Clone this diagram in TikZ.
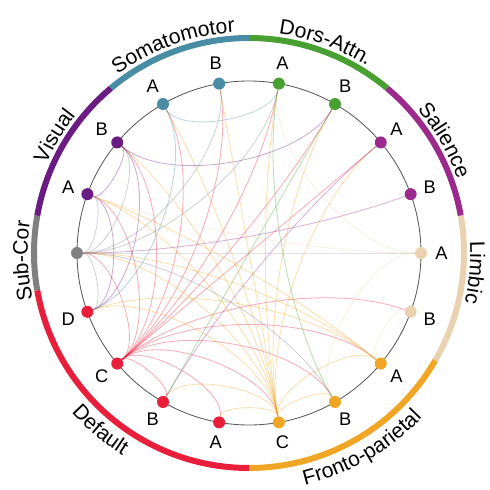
\documentclass[tikz,border=0pt]{standalone}
\usepackage{fontspec}
\setmainfont{Liberation Sans}
\usetikzlibrary{calc,decorations.text}
\definecolor{smcol}{RGB}{72,141,163}
\definecolor{dacol}{RGB}{72,160,48}
\definecolor{sacol}{RGB}{155,42,140}
\definecolor{licol}{RGB}{234,210,176}
\definecolor{fpcol}{RGB}{240,166,36}
\definecolor{dfcol}{RGB}{232,30,58}
\definecolor{sccol}{RGB}{128,128,128}
\definecolor{vicol}{RGB}{106,28,130}
\newcommand{\lettfont}{\fontsize{13}{15}\selectfont}
\newcommand{\grpfont}{\fontsize{15}{17}\selectfont}
% curved link, leaving each region towards the centre
\newcommand{\link}[3]{\draw[conn,#3] let \p1=($(#1)-(#2)$), \n1={0.3*veclen(\x1,\y1)} in
  (#1) .. controls ($(#1)!\n1!(O)$) and ($(#2)!\n1!(O)$) .. (#2);}
\tikzset{
  roi/.style={circle,inner sep=0pt,minimum size=0.3cm,fill=#1},
  lab/.style={label={[anchor=center,label distance=10pt,font=\lettfont]#1}},
  grp/.style={line width=0.15cm,draw=#1},
  conn/.style={line width=0.6pt,draw opacity=0.36},
}
\begin{document}
\begin{tikzpicture}
\useasboundingbox (-6.225,-5.925) rectangle (6.025,6.325);
\coordinate (O) at (0,0);
\draw[black!65,line width=0.6pt] (O) circle (4.3);
% network arcs
\draw[grp=smcol] (130:5.375) arc[start angle=130,end angle=90,radius=5.375];
\draw[grp=dacol] (90:5.375) arc[start angle=90,end angle=50,radius=5.375];
\draw[grp=sacol] (50:5.375) arc[start angle=50,end angle=10,radius=5.375];
\draw[grp=licol] (10:5.375) arc[start angle=10,end angle=-30,radius=5.375];
\draw[grp=fpcol] (-30:5.375) arc[start angle=-30,end angle=-90,radius=5.375];
\draw[grp=dfcol] (-90:5.375) arc[start angle=-90,end angle=-170,radius=5.375];
\draw[grp=sccol] (190:5.375) arc[start angle=190,end angle=170,radius=5.375];
\draw[grp=vicol] (170:5.375) arc[start angle=170,end angle=130,radius=5.375];
% network names
\path[decorate,decoration={text along path,text align=center,text={|\grpfont|Somatomotor}}]
  (150:5.53) arc[start angle=150,end angle=70,radius=5.53];
\path[decorate,decoration={text along path,text align=center,text={|\grpfont|Dors-Attn.}}]
  (110:5.53) arc[start angle=110,end angle=30,radius=5.53];
\path[decorate,decoration={text along path,text align=center,text={|\grpfont|Salience}}]
  (70:5.53) arc[start angle=70,end angle=-10,radius=5.53];
\path[decorate,decoration={text along path,text align=center,text={|\grpfont|Limbic}}]
  (35:5.53) arc[start angle=35,end angle=-45,radius=5.53];
\path[decorate,decoration={text along path,text align=center,text={|\grpfont|Fronto-parietal}}]
  (-105:5.97) arc[start angle=-105,end angle=-15,radius=5.97];
\path[decorate,decoration={text along path,text align=center,text={|\grpfont|Default}}]
  (-170:5.97) arc[start angle=-170,end angle=-90,radius=5.97];
\path[decorate,decoration={text along path,text align=center,text={|\grpfont|Sub-Cor}}]
  (222:5.53) arc[start angle=222,end angle=142,radius=5.53];
\path[decorate,decoration={text along path,text align=center,text={|\grpfont|Visual}}]
  (189:5.53) arc[start angle=189,end angle=109,radius=5.53];
% regions
\node[roi=smcol,lab={100:B}] (smB) at (100:4.3) {};
\node[roi=dacol,lab={80:A}] (daA) at (80:4.3) {};
\node[roi=dacol,lab={60:B}] (daB) at (60:4.3) {};
\node[roi=sacol,lab={40:A}] (saA) at (40:4.3) {};
\node[roi=sacol,lab={20:B}] (saB) at (20:4.3) {};
\node[roi=licol,lab={0:A}] (liA) at (0:4.3) {};
\node[roi=licol,lab={-20:B}] (liB) at (-20:4.3) {};
\node[roi=fpcol,lab={-40:A}] (fpA) at (-40:4.3) {};
\node[roi=fpcol,lab={-60:B}] (fpB) at (-60:4.3) {};
\node[roi=fpcol,lab={-80:C}] (fpC) at (-80:4.3) {};
\node[roi=dfcol,lab={-100:A}] (dfA) at (-100:4.3) {};
\node[roi=dfcol,lab={-120:B}] (dfB) at (-120:4.3) {};
\node[roi=dfcol,lab={-140:C}] (dfC) at (-140:4.3) {};
\node[roi=dfcol,lab={-160:D}] (dfD) at (-160:4.3) {};
\node[roi=sccol] (subc) at (180:4.3) {};
\node[roi=vicol,lab={160:A}] (viA) at (160:4.3) {};
\node[roi=vicol,lab={140:B}] (viB) at (140:4.3) {};
\node[roi=smcol,lab={120:A}] (smA) at (120:4.3) {};
% links
\foreach \t in {smB,smA,viB,viA,subc,daA,daB,saA,liB,fpA,fpB,fpC,dfB,dfA}
  {\link{dfC}{\t}{dfcol}}
\foreach \t in {daA,daB,smB,smA,viB,viA,subc,dfD,dfB,dfA,fpB,fpA,saA}
  {\link{fpC}{\t}{fpcol}}
\foreach \t in {viA,viB,daA,dfD,fpB,smB,liA}
  {\link{subc}{\t}{sccol}}
\foreach \t in {viA,subc,dfD}
  {\link{fpA}{\t}{fpcol}}
\foreach \t in {viA,daB,dfD}
  {\link{viB}{\t}{vicol}}
\link{viA}{dfD}{vicol}
\link{smA}{dfD}{smcol}
\link{smA}{daA}{smcol}
\link{saB}{subc}{sacol}
\link{saA}{dfB}{sacol}
\link{liA}{daA}{licol}
\link{liA}{fpB}{licol}
\link{liA}{viA}{licol}
\link{liB}{fpA}{licol}
\link{daA}{fpB}{dacol}
\link{daB}{dfB}{dacol}
\end{tikzpicture}
\end{document}
